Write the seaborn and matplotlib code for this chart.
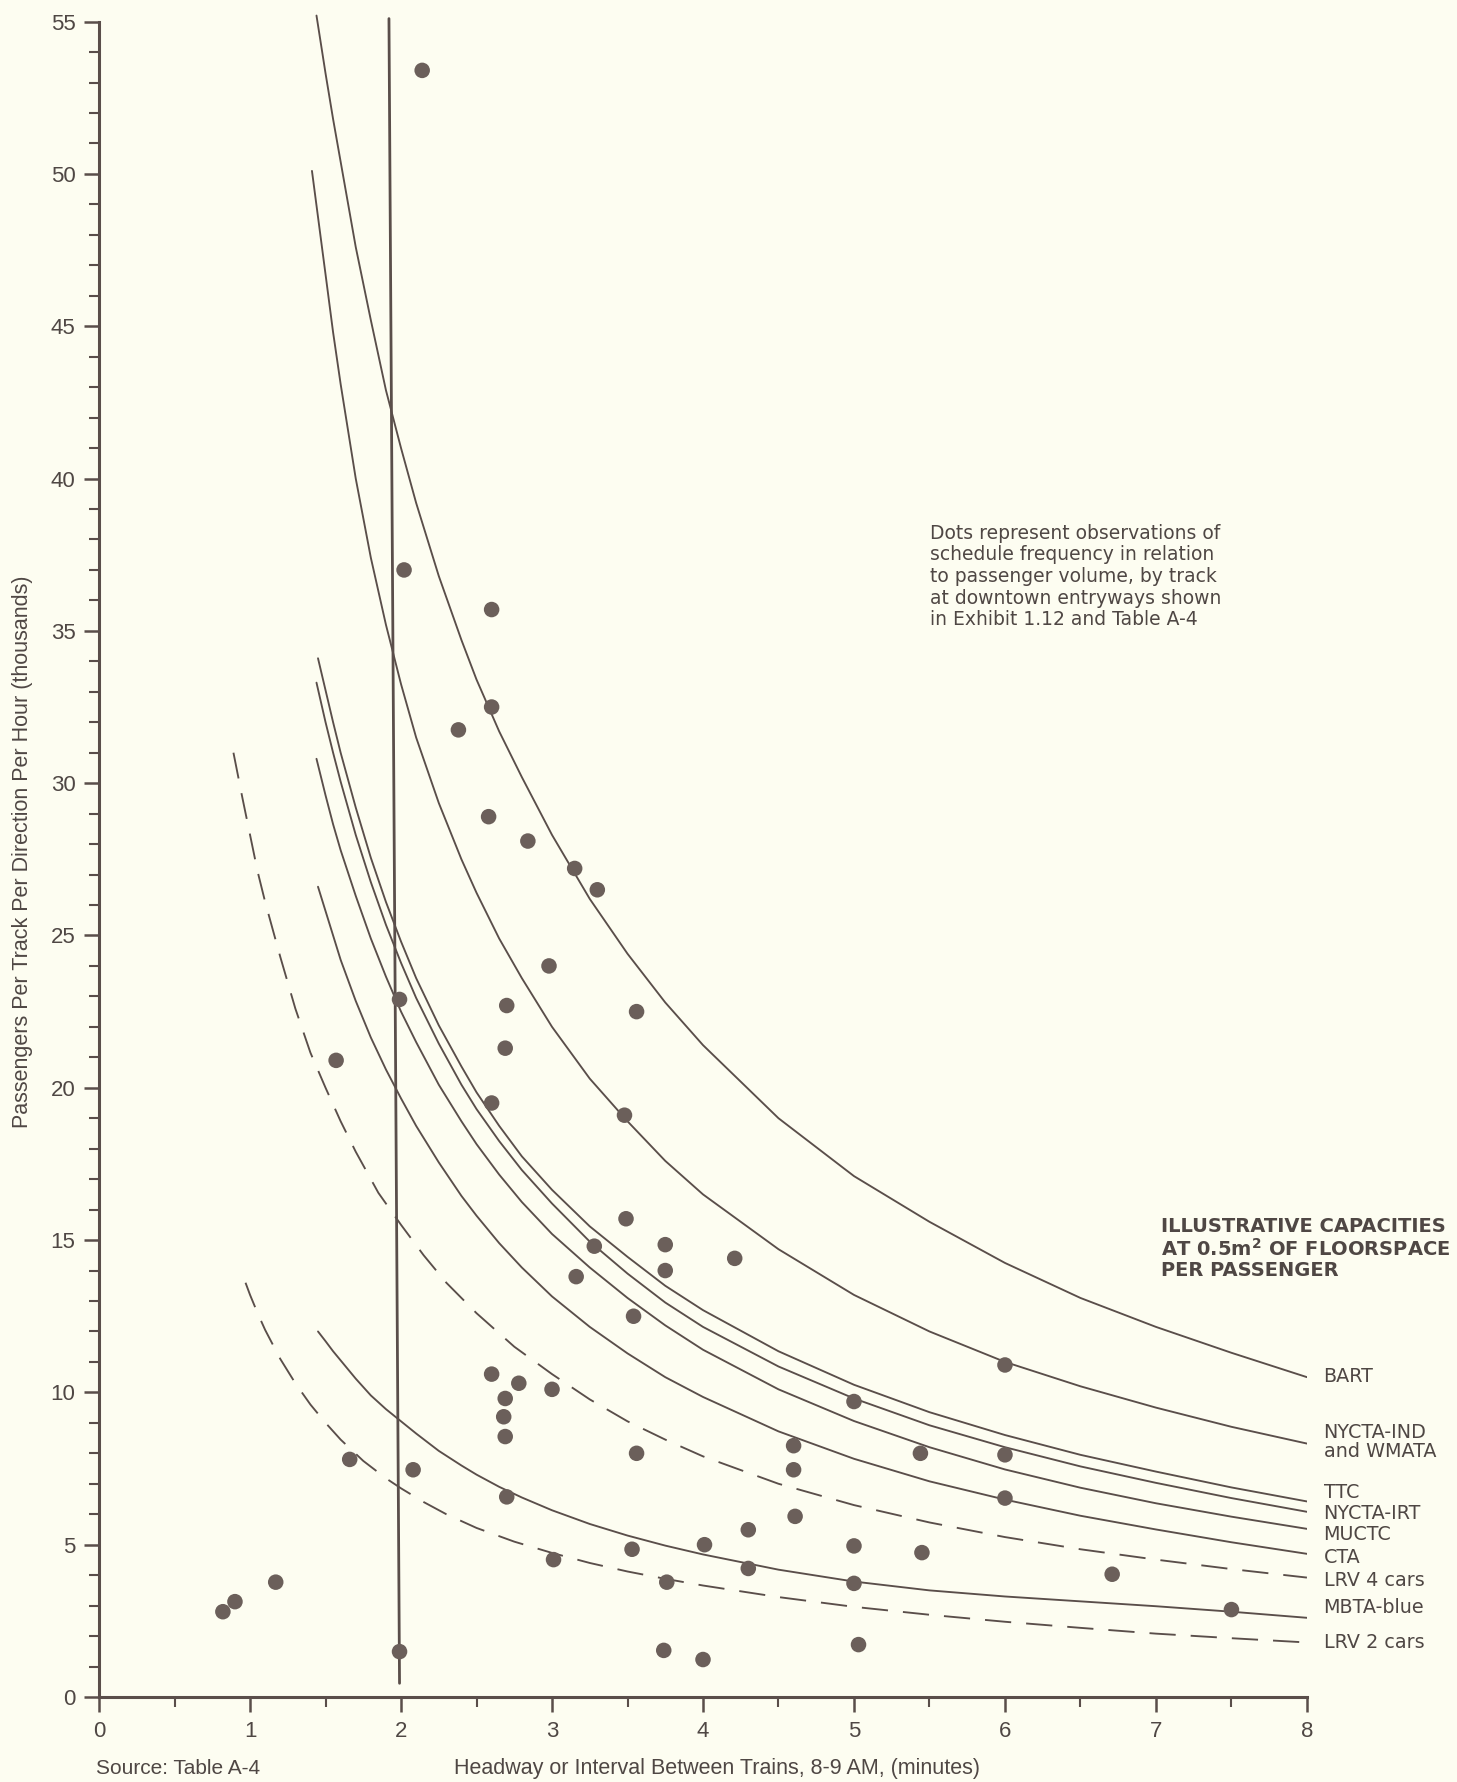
import matplotlib
matplotlib.use("Agg")
import matplotlib.pyplot as plt
import seaborn as sns
import pandas as pd
from matplotlib.ticker import MultipleLocator

# ---------------- data ----------------
obs_headway = [2.14, 2.02, 2.60, 2.60, 2.38, 2.58, 2.84, 3.15, 3.30, 2.98,
               1.99, 2.70, 3.56, 2.69, 1.57, 2.60, 3.48, 3.49, 3.75, 3.28,
               4.21, 3.75, 3.16, 3.54, 6.00, 2.60, 2.78, 3.00, 2.69, 2.68,
               2.69, 5.00, 4.60, 5.44, 6.00, 1.66, 3.56, 4.60, 2.08, 6.00,
               2.70, 4.61, 4.30, 4.01, 5.00, 3.53, 5.45, 3.01, 4.30, 6.71,
               1.17, 3.76, 5.00, 7.50, 0.90, 0.82, 5.03, 3.74, 1.99, 4.00]
obs_volume = [53.4, 37.0, 35.7, 32.5, 31.75, 28.9, 28.1, 27.2, 26.5, 24.0,
              22.9, 22.7, 22.5, 21.3, 20.9, 19.5, 19.1, 15.7, 14.85, 14.8,
              14.4, 14.0, 13.8, 12.5, 10.9, 10.6, 10.3, 10.1, 9.8, 9.2,
              8.55, 9.7, 8.25, 8.0, 7.95, 7.8, 8.0, 7.46, 7.46, 6.53,
              6.57, 5.93, 5.49, 5.0, 4.96, 4.85, 4.74, 4.51, 4.22, 4.03,
              3.77, 3.77, 3.73, 2.87, 3.13, 2.80, 1.72, 1.53, 1.49, 1.23]

min_headway_x = [1.92, 1.99]
min_headway_y = [55.1, 0.45]

bart_x = [1.44, 1.5, 1.55, 1.6, 1.7, 1.8, 1.9, 2.0, 2.1, 2.25, 2.4, 2.5, 2.65, 2.8,
          3.0, 3.25, 3.5, 3.75, 4.0, 4.5, 5.0, 5.5, 6.0, 6.5, 7.0, 7.5, 8.0]
bart_y = [55.2, 53.3, 51.8, 50.4, 47.6, 45.2, 42.9, 41.0, 39.2, 36.8, 34.7, 33.4, 31.7, 30.2,
          28.3, 26.2, 24.4, 22.8, 21.4, 19.0, 17.1, 15.6, 14.25, 13.1, 12.15, 11.3, 10.5]

nycta_ind_x = [1.41, 1.5, 1.55, 1.6, 1.7, 1.8, 1.9, 2.0, 2.1, 2.25, 2.4, 2.5, 2.65, 2.8,
               3.0, 3.25, 3.5, 3.75, 4.0, 4.5, 5.0, 5.5, 6.0, 6.5, 7.0, 7.5, 8.0]
nycta_ind_y = [50.1, 46.7, 44.8, 43.1, 40.0, 37.4, 35.2, 33.25, 31.5, 29.35, 27.5, 26.4, 24.9, 23.6,
               22.0, 20.3, 18.9, 17.6, 16.5, 14.7, 13.2, 12.0, 11.0, 10.2, 9.5, 8.87, 8.32]

ttc_x = [1.45, 1.5, 1.55, 1.6, 1.7, 1.8, 1.9, 2.0, 2.1, 2.25, 2.4, 2.5, 2.65, 2.8,
         3.0, 3.25, 3.5, 3.75, 4.0, 4.5, 5.0, 5.5, 6.0, 6.5, 7.0, 7.5, 8.0]
ttc_y = [34.1, 33.05, 32.0, 31.0, 29.2, 27.55, 26.1, 24.8, 23.6, 22.05, 20.7, 19.85, 18.75, 17.75,
         16.65, 15.45, 14.45, 13.5, 12.7, 11.35, 10.25, 9.35, 8.6, 7.95, 7.4, 6.88, 6.42]

nycta_irt_x = [1.44, 1.5, 1.55, 1.6, 1.7, 1.8, 1.9, 2.0, 2.1, 2.25, 2.4, 2.5, 2.65, 2.8,
               3.0, 3.25, 3.5, 3.75, 4.0, 4.5, 5.0, 5.5, 6.0, 6.5, 7.0, 7.5, 8.0]
nycta_irt_y = [33.3, 32.0, 31.0, 30.05, 28.3, 26.75, 25.35, 24.1, 22.95, 21.45, 20.1, 19.3, 18.25, 17.3,
               16.2, 14.95, 13.9, 12.95, 12.15, 10.85, 9.8, 8.92, 8.2, 7.57, 7.03, 6.53, 6.08]

muctc_x = [1.44, 1.5, 1.55, 1.6, 1.7, 1.8, 1.9, 2.0, 2.1, 2.25, 2.4, 2.5, 2.65, 2.8,
           3.0, 3.25, 3.5, 3.75, 4.0, 4.5, 5.0, 5.5, 6.0, 6.5, 7.0, 7.5, 8.0]
muctc_y = [30.8, 29.6, 28.65, 27.8, 26.3, 24.9, 23.65, 22.5, 21.5, 20.1, 18.9, 18.15, 17.15, 16.25,
           15.2, 14.1, 13.1, 12.2, 11.4, 10.1, 9.06, 8.2, 7.47, 6.87, 6.36, 5.92, 5.52]

cta_x = [1.45, 1.5, 1.55, 1.6, 1.7, 1.8, 1.9, 2.0, 2.1, 2.25, 2.4, 2.5, 2.65, 2.8,
         3.0, 3.25, 3.5, 3.75, 4.0, 4.5, 5.0, 5.5, 6.0, 6.5, 7.0, 7.5, 8.0]
cta_y = [26.6, 25.8, 25.0, 24.2, 22.85, 21.65, 20.6, 19.65, 18.75, 17.55, 16.45, 15.8, 14.9, 14.1,
         13.15, 12.15, 11.28, 10.5, 9.85, 8.72, 7.82, 7.08, 6.48, 5.95, 5.5, 5.08, 4.70]

lrv4_x = [0.89, 0.95, 1.0, 1.05, 1.1, 1.2, 1.3, 1.4, 1.5, 1.6, 1.7, 1.85, 2.0, 2.15, 2.3,
          2.5, 2.75, 3.0, 3.25, 3.5, 3.75, 4.0, 4.5, 5.0, 5.5, 6.0, 6.5, 7.0, 7.5, 8.0]
lrv4_y = [31.0, 29.5, 28.3, 27.1, 26.1, 24.3, 22.6, 21.15, 20.0, 18.9, 17.9, 16.55, 15.5, 14.5, 13.6,
          12.6, 11.5, 10.6, 9.77, 9.05, 8.45, 7.9, 7.0, 6.3, 5.73, 5.25, 4.85, 4.51, 4.2, 3.92]

mbta_x = [1.45, 1.5, 1.55, 1.6, 1.7, 1.8, 1.9, 2.0, 2.1, 2.25, 2.4, 2.5, 2.65, 2.8,
          3.0, 3.25, 3.5, 3.75, 4.0, 4.5, 5.0, 5.5, 6.0, 6.5, 7.0, 7.5, 8.0]
mbta_y = [12.0, 11.68, 11.35, 11.05, 10.45, 9.9, 9.45, 9.05, 8.65, 8.08, 7.6, 7.3, 6.9, 6.55,
          6.13, 5.68, 5.3, 4.97, 4.68, 4.18, 3.79, 3.5, 3.3, 3.14, 2.98, 2.8, 2.6]

lrv2_x = [0.97, 1.0, 1.05, 1.1, 1.2, 1.3, 1.4, 1.5, 1.6, 1.75, 1.9, 2.0, 2.15, 2.3, 2.5,
          2.75, 3.0, 3.25, 3.5, 3.75, 4.0, 4.5, 5.0, 5.5, 6.0, 6.5, 7.0, 7.5, 8.0]
lrv2_y = [13.6, 13.2, 12.6, 12.05, 11.1, 10.3, 9.6, 9.0, 8.45, 7.75, 7.18, 6.85, 6.4, 6.0, 5.55,
          5.1, 4.73, 4.4, 4.12, 3.88, 3.66, 3.28, 2.96, 2.7, 2.47, 2.27, 2.08, 1.93, 1.79]

curve_names = ["BART", "NYCTA-IND\nand WMATA", "TTC", "NYCTA-IRT", "MUCTC",
               "CTA", "LRV 4 cars", "MBTA-blue", "LRV 2 cars"]
curve_x = [bart_x, nycta_ind_x, ttc_x, nycta_irt_x, muctc_x, cta_x, lrv4_x, mbta_x, lrv2_x]
curve_y = [bart_y, nycta_ind_y, ttc_y, nycta_irt_y, muctc_y, cta_y, lrv4_y, mbta_y, lrv2_y]
dashed_curves = ["LRV 4 cars", "LRV 2 cars"]

# ---------------- style ----------------
bg = "#fdfdf1"
ink = "#5a4e4a"
dot_c = "#6b5f5a"
txt = "#4f4744"

sns.set_style("ticks")
plt.rcParams["font.family"] = ["Liberation Sans", "DejaVu Sans"]
plt.rcParams["mathtext.fontset"] = "dejavusans"
plt.rcParams["lines.solid_joinstyle"] = "round"

rows = []
for name, xs, ys in zip(curve_names, curve_x, curve_y):
    for xv, yv in zip(xs, ys):
        rows.append({"headway": xv, "volume": yv, "system": name})
df = pd.DataFrame(rows)

fig = plt.figure(figsize=(14.57, 17.82), dpi=100, facecolor=bg)
ax = fig.add_axes([0.068, 0.0477, 0.829, 0.9487], facecolor=bg)

dash_map = {n: ((14, 8) if n in dashed_curves else "") for n in curve_names}
sns.lineplot(data=df, x="headway", y="volume", style="system", dashes=dash_map,
             color=ink, lw=1.35, estimator=None, sort=False, legend=False, ax=ax)

sns.lineplot(x=min_headway_x, y=min_headway_y, color=ink, lw=2.0,
             estimator=None, sort=False, ax=ax)

sns.scatterplot(x=obs_headway, y=obs_volume, s=125, color=dot_c,
                edgecolor="none", zorder=5, ax=ax)

ax.set_xlim(0, 8)
ax.set_ylim(0, 55.5)
ax.xaxis.set_major_locator(MultipleLocator(1))
ax.xaxis.set_minor_locator(MultipleLocator(0.5))
ax.yaxis.set_major_locator(MultipleLocator(5))
ax.yaxis.set_minor_locator(MultipleLocator(1))
ax.set_yticks([0, 5, 10, 15, 20, 25, 30, 35, 40, 45, 50, 55])

for s in ["top", "right"]:
    ax.spines[s].set_visible(False)
for s in ["left", "bottom"]:
    ax.spines[s].set_color(ink)
    ax.spines[s].set_linewidth(2.2)
ax.spines["left"].set_bounds(0, 55)
ax.spines["bottom"].set_bounds(0, 8)

ax.tick_params(axis="both", which="major", length=11, width=1.8, color=ink,
               labelsize=16, labelcolor=txt, pad=6, direction="out")
ax.tick_params(axis="both", which="minor", length=7, width=1.5, color=ink, direction="out")

ax.set_xlabel("Headway or Interval Between Trains, 8-9 AM, (minutes)",
              fontsize=15.5, color=txt, labelpad=12, x=0.512)
ax.set_ylabel("Passengers Per Track Per Direction Per Hour (thousands)",
              fontsize=15.5, color=txt)
ax.yaxis.set_label_coords(-0.055, 0.5)

# curve labels
label_x = 8.11
label_y = [10.52, 8.36, 6.72, 6.04, 5.34, 4.59, 3.84, 2.95, 1.79]
for name, ly in zip(curve_names, label_y):
    ax.text(label_x, ly, name, ha="left", va="center", fontsize=13.8,
            family="DejaVu Sans", color=txt, clip_on=False, linespacing=1.0)

fig.text(0.797, 0.317, "ILLUSTRATIVE CAPACITIES\nAT 0.5m$^{\\mathbf{2}}$ OF FLOORSPACE\nPER PASSENGER",
         ha="left", va="top", fontsize=14, fontweight="bold", family="DejaVu Sans",
         color=txt, linespacing=1.08)

fig.text(0.638, 0.706,
         "Dots represent observations of\nschedule frequency in relation\n"
         "to passenger volume, by track\nat downtown entryways shown\n"
         "in Exhibit 1.12 and Table A-4",
         ha="left", va="top", fontsize=13.5, family="DejaVu Sans", color=txt,
         linespacing=1.17)

fig.text(0.066, 0.002, "Source: Table A-4", ha="left", va="bottom",
         fontsize=15, color=txt)

fig.savefig("out.png", dpi=100, facecolor=bg)
